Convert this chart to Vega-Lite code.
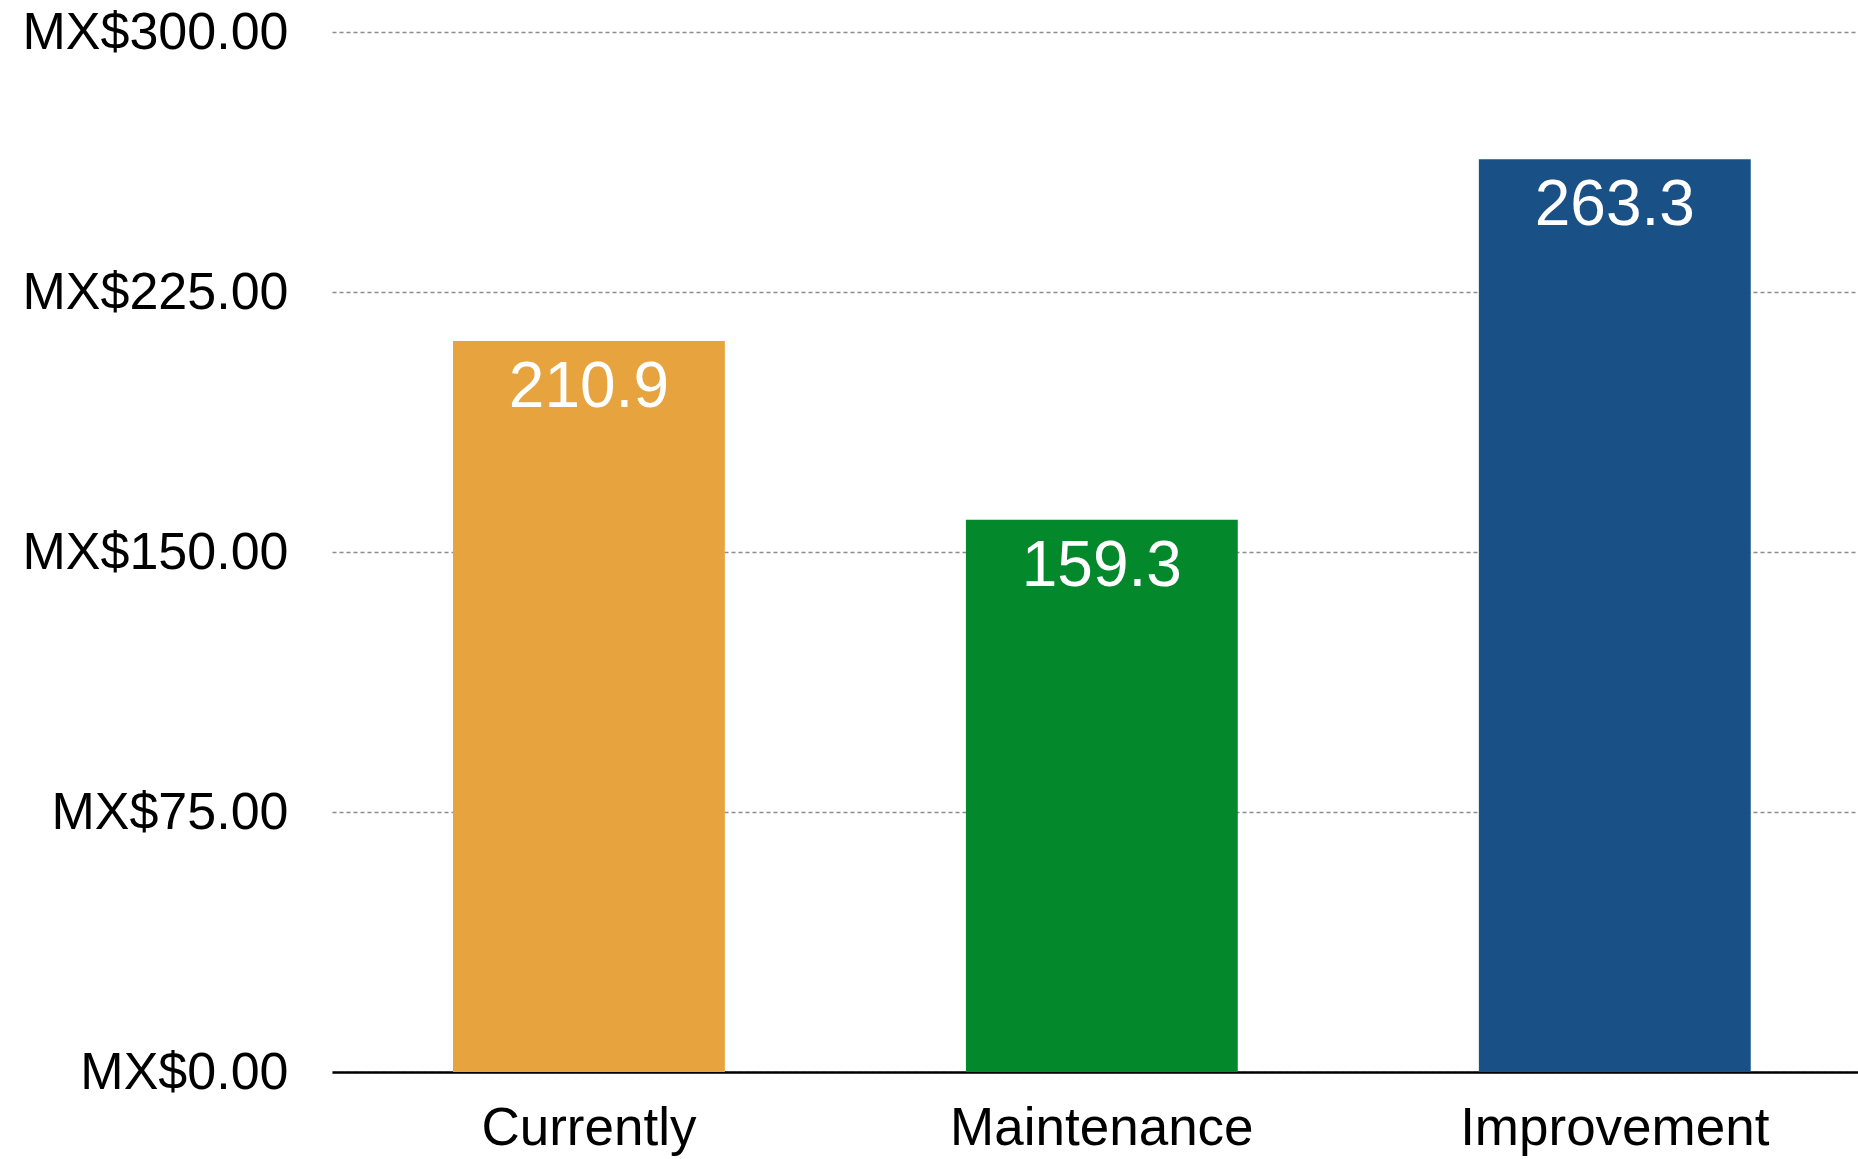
{
  "$schema": "https://vega.github.io/schema/vega-lite/v6.json",
  "autosize": "none",
  "padding": {"left": 332, "top": 32, "right": 0, "bottom": 87},
  "width": 1526,
  "height": 1040,
  "background": "white",
  "data": {
    "values": [
      {"scenario": "Currently", "value": 210.9},
      {"scenario": "Maintenance", "value": 159.3},
      {"scenario": "Improvement", "value": 263.3}
    ]
  },
  "config": {
    "view": {"stroke": null},
    "font": "Liberation Sans"
  },
  "encoding": {
    "x": {
      "field": "scenario",
      "type": "nominal",
      "sort": null,
      "scale": {"paddingInner": 0.47, "paddingOuter": 0.2225, "align": 0.53},
      "axis": {
        "title": null,
        "labelAngle": 0,
        "labelFontSize": 53,
        "labelLimit": 0,
        "labelColor": "#000000",
        "labelPadding": 30,
        "ticks": false,
        "domainColor": "#000000",
        "domainWidth": 2.5,
        "grid": false
      }
    },
    "y": {
      "field": "value",
      "type": "quantitative",
      "scale": {"domain": [0, 300], "nice": false},
      "axis": {
        "title": null,
        "values": [0, 75, 150, 225, 300],
        "labelExpr": "'MX$' + format(datum.value, '.2f')",
        "labelFontSize": 52,
        "labelLimit": 0,
        "labelColor": "#000000",
        "labelPadding": 44,
        "ticks": false,
        "domain": false,
        "grid": true,
        "gridColor": "#8c8c8c",
        "gridWidth": 1.5,
        "gridDash": [4, 3]
      }
    }
  },
  "layer": [
    {
      "mark": {"type": "bar"},
      "encoding": {
        "color": {
          "field": "scenario",
          "type": "nominal",
          "legend": null,
          "scale": {
            "domain": ["Currently", "Maintenance", "Improvement"],
            "range": ["#E6A33E", "#03882C", "#195086"]
          }
        }
      }
    },
    {
      "mark": {
        "type": "text",
        "color": "#ffffff",
        "fontSize": 64,
        "fontWeight": 300,
        "baseline": "middle",
        "align": "center",
        "dy": 47
      },
      "encoding": {
        "text": {"field": "value", "type": "quantitative", "format": ".1f"}
      }
    }
  ]
}
